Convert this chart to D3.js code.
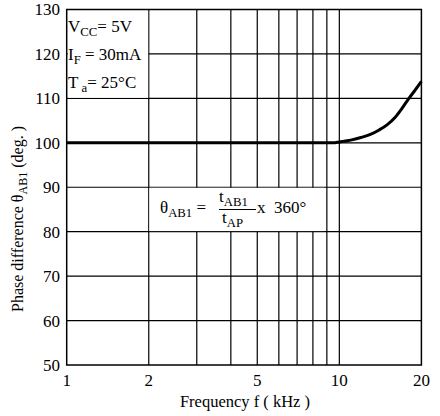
<!DOCTYPE html>
<html>
<head>
<meta charset="utf-8">
<script src="https://cdn.jsdelivr.net/npm/d3@7"></script>
<style>
  html, body { margin: 0; padding: 0; background: #fff; }
  svg { display: block; font-family: "Liberation Serif", "Times New Roman", serif; }
  text { white-space: pre; }
</style>
</head>
<body>
<svg id="chart" width="440" height="416"></svg>
<script>
// Phase difference vs. frequency
const freq  = [1, 5, 9.5, 10, 11, 12, 13, 14, 15, 16, 17, 18, 19, 20];
const phase = [100, 100, 100, 100.2, 100.6, 101.2, 101.9, 102.9, 104.1, 105.7, 107.8, 110.0, 111.9, 113.8];

const xTicks = [1, 2, 5, 10, 20];
const xGrid  = [2, 3, 4, 5, 6, 7, 8, 9, 10];
const yTicks = [50, 60, 70, 80, 90, 100, 110, 120, 130];
const yGrid  = [60, 70, 80, 90, 100, 110, 120];

const svg = d3.select("#chart");
const x = d3.scaleLog().domain([1, 20]).range([66.7, 421.4]);
const y = d3.scaleLinear().domain([50, 130]).range([365, 9.5]);

// grid
const grid = svg.append("g").attr("stroke", "#000").attr("stroke-width", 1.2);
grid.selectAll("line.v").data(xGrid).join("line")
  .attr("x1", d => x(d)).attr("x2", d => x(d))
  .attr("y1", y(50)).attr("y2", y(130));
grid.selectAll("line.h").data(yGrid).join("line")
  .attr("x1", x(1)).attr("x2", x(20))
  .attr("y1", d => y(d)).attr("y2", d => y(d));

// white panels for the condition block and the formula
svg.append("rect")
  .attr("x", x(1) + 1).attr("y", y(130) + 1)
  .attr("width", x(2) - x(1) - 1.6).attr("height", y(110) - y(130) - 1.6)
  .attr("fill", "#fff");
svg.append("rect")
  .attr("x", x(2) + 0.6).attr("y", y(90) + 0.6)
  .attr("width", x(8.8) - x(2) - 0.6).attr("height", y(80) - y(90) - 1.2)
  .attr("fill", "#fff");

// frame
svg.append("rect")
  .attr("x", x(1)).attr("y", y(130))
  .attr("width", x(20) - x(1)).attr("height", y(50) - y(130))
  .attr("fill", "none").attr("stroke", "#000").attr("stroke-width", 1.5);

// y tick labels
svg.append("g").selectAll("text").data(yTicks).join("text")
  .attr("x", 60).attr("y", d => y(d)).attr("dy", "0.35em")
  .attr("text-anchor", "end").attr("font-size", 17)
  .text(d => d);

// x tick labels
svg.append("g").selectAll("text").data(xTicks).join("text")
  .attr("x", d => x(d)).attr("y", 386)
  .attr("text-anchor", "middle").attr("font-size", 17)
  .text(d => d);

// axis titles
svg.append("text")
  .attr("x", 245).attr("y", 407).attr("text-anchor", "middle")
  .attr("font-size", 16.5)
  .text("Frequency f ( kHz )");

const yt = svg.append("text")
  .attr("transform", "translate(23,312) rotate(-90)")
  .attr("font-size", 16);
yt.append("tspan").text("Phase difference θ");
yt.append("tspan").attr("dy", 4).attr("font-size", 12).text("AB1");
yt.append("tspan").attr("dy", -4).text(" (deg. )");

// curve
const line = d3.line()
  .x((d, i) => x(freq[i]))
  .y(d => y(d))
  .curve(d3.curveMonotoneX);
svg.append("path")
  .attr("d", line(phase))
  .attr("fill", "none").attr("stroke", "#000").attr("stroke-width", 3);

// operating conditions
function subText(xp, yp, parts, size = 17) {
  const t = svg.append("text").attr("x", xp).attr("y", yp).attr("font-size", size);
  parts.forEach(p => {
    const s = t.append("tspan").text(p.t);
    if (p.sub) s.attr("font-size", size * 0.75).attr("dy", 4);
    if (p.up) s.attr("dy", -4);
  });
  return t;
}
subText(68, 32, [{t: "V"}, {t: "CC", sub: true}, {t: "= 5V", up: true}]);
subText(68, 60, [{t: "I"}, {t: "F", sub: true}, {t: " = 30mA", up: true}]);
subText(68, 88, [{t: "T"}, {t: " a", sub: true}, {t: "= 25°C", up: true}]);

// formula
subText(160, 213, [{t: "θ"}, {t: "AB1", sub: true}, {t: " = ", up: true}]);
subText(219, 202, [{t: "t"}, {t: "AB1", sub: true}]);
svg.append("line").attr("x1", 219).attr("x2", 256).attr("y1", 209.5).attr("y2", 209.5)
  .attr("stroke", "#000").attr("stroke-width", 1.2);
subText(222, 223, [{t: "t"}, {t: "AP", sub: true}]);
subText(257, 213, [{t: "x  360°"}]);
</script>
</body>
</html>
